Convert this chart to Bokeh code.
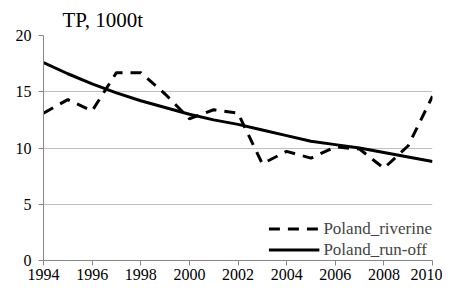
from bokeh.plotting import figure
from bokeh.embed import file_html
from bokeh.resources import INLINE
from bokeh.models import FixedTicker, Range1d, Legend, LegendItem

years = list(range(1994, 2011))
riverine = [13.1, 14.3, 13.3, 16.7, 16.7, 14.8, 12.6, 13.4, 13.1, 8.6, 9.7, 9.1, 10.1, 9.9, 8.2, 10.2, 14.6]
runoff = [17.6, 16.6, 15.7, 14.9, 14.2, 13.6, 13.0, 12.5, 12.1, 11.6, 11.1, 10.6, 10.3, 10.0, 9.6, 9.2, 8.8]
x_ticks = list(range(1994, 2011, 2))
y_ticks = [0, 5, 10, 15, 20]
title_text = "TP, 1000t"

FONT = "'Liberation Serif'"

p = figure(width=442, height=286, output_backend="svg", toolbar_location=None,
           x_range=Range1d(1994, 2010), y_range=Range1d(0, 20),
           min_border_left=43, min_border_right=10, min_border_top=35, min_border_bottom=26)
p.outline_line_color = None
p.background_fill_color = "white"

p.title.text = title_text
p.title.text_font = FONT
p.title.text_font_size = "21px"
p.title.text_font_style = "normal"
p.title.text_color = "black"
p.title.align = "left"
p.title.offset = 19
p.title.standoff = 8

r1 = p.line(years, riverine, line_color="black", line_width=3, line_dash="11 8")
r2 = p.line(years, runoff, line_color="black", line_width=3)

p.xaxis.ticker = FixedTicker(ticks=x_ticks)
p.yaxis.ticker = FixedTicker(ticks=y_ticks)
for ax in (p.xaxis[0], p.yaxis[0]):
    ax.axis_line_color = "#888888"
    ax.major_tick_line_color = "#888888"
    ax.major_tick_out = 5
    ax.major_tick_in = 0
    ax.minor_tick_line_color = None
    ax.major_label_text_font = FONT
    ax.major_label_text_font_size = "16px"
    ax.major_label_text_font_style = "normal"
    ax.major_label_text_color = "black"
p.xaxis.major_label_standoff = 3
p.yaxis.major_label_standoff = 7

p.xgrid.grid_line_color = None
p.ygrid.grid_line_color = "#bfbfbf"
p.ygrid.grid_line_width = 1

legend = Legend(items=[LegendItem(label="Poland_riverine", renderers=[r1]),
                       LegendItem(label="Poland_run-off", renderers=[r2])],
                location="bottom_right", border_line_color=None,
                background_fill_alpha=0, label_text_font=FONT,
                label_text_font_style="normal",
                label_text_font_size="17px", glyph_width=51, label_standoff=4,
                spacing=0, padding=2, margin=0, label_height=21, glyph_height=21)
p.add_layout(legend)

open("out.html", "w").write(file_html(p, INLINE))
